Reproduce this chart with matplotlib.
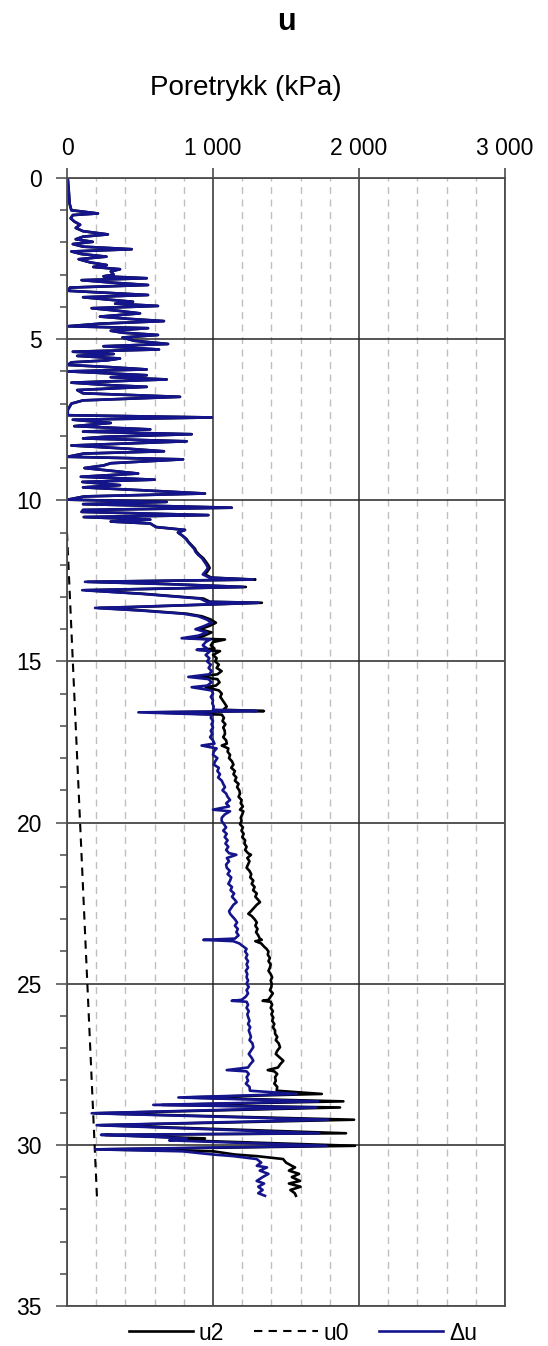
import numpy as np
import matplotlib.pyplot as plt
from matplotlib.ticker import MultipleLocator

plt.rcParams['font.family'] = ['Liberation Sans', 'DejaVu Sans']

# upper layer: u0 = 0 here, so u2 and du are the same trace
depth_top = [0.0, 0.4, 0.8, 1.0, 1.1, 1.15, 1.25, 1.35, 1.45, 1.55, 1.65, 1.75, 1.82, 1.9,
             1.98, 2.05, 2.13, 2.21, 2.28, 2.36, 2.44, 2.52, 2.62, 2.7, 2.76, 2.83, 2.9, 3.0,
             3.05, 3.11, 3.17, 3.25, 3.32, 3.4, 3.5, 3.63, 3.7, 3.78, 3.84, 3.9, 3.97, 4.04,
             4.12, 4.2, 4.3, 4.37, 4.44, 4.52, 4.6, 4.66, 4.74, 4.8, 4.87, 4.95, 5.05, 5.15,
             5.22, 5.32, 5.39, 5.46, 5.52, 5.6, 5.66, 5.72, 5.8, 5.87, 5.94, 6.0, 6.12, 6.18,
             6.25, 6.35, 6.43, 6.48, 6.58, 6.68, 6.79, 6.9, 7.0, 7.2, 7.36, 7.43, 7.5, 7.6,
             7.7, 7.8, 7.87, 7.95, 8.03, 8.08, 8.17, 8.3, 8.4, 8.48, 8.55, 8.65, 8.73, 8.85,
             8.92, 9.0, 9.17, 9.27, 9.36, 9.43, 9.53, 9.6, 9.69, 9.79, 9.88, 9.98, 10.05,
             10.12, 10.23, 10.3, 10.36, 10.46, 10.52, 10.6, 10.66, 10.72, 10.83, 10.92]
u_top = [5, 12, 18, 30, 212, 40, 25, 50, 90, 60, 110, 280, 110, 60,
         176, 40, 110, 443, 30, 100, 270, 80, 160, 272, 180, 363, 300, 320,
         250, 546, 100, 320, 555, 20, 10, 555, 110, 300, 452, 330, 623, 169,
         350, 500, 226, 420, 664, 226, 5, 555, 300, 380, 623, 380, 460, 692,
         250, 630, 40, 320, 70, 363, 272, 30, 5, 300, 546, 5, 546, 300,
         683, 30, 300, 546, 70, 110, 774, 110, 30, 5, 5, 991, 40, 300,
         50, 570, 110, 854, 260, 110, 820, 30, 418, 664, 115, 5, 795, 300,
         250, 120, 487, 95, 600, 105, 363, 110, 520, 945, 120, 5, 683,
         110, 1128, 110, 100, 968, 115, 570, 300, 570, 610, 808]

# lower layers
depth_lo = [11.0, 11.1, 11.2, 11.3, 11.4, 11.5, 11.6, 11.7, 11.8, 11.9, 12.0, 12.1, 12.2, 12.3,
            12.4, 12.46, 12.53, 12.6, 12.69, 12.79, 12.9, 13.05, 13.15, 13.18, 13.31, 13.34,
            13.42, 13.52, 13.6, 13.7, 13.8, 13.9, 14.0, 14.1, 14.2, 14.28, 14.32, 14.4, 14.5,
            14.6, 14.64, 14.68, 14.8, 14.9, 15.0, 15.1, 15.2, 15.3, 15.4, 15.48, 15.55, 15.65,
            15.75, 15.8, 15.9, 16.0, 16.1, 16.2, 16.3, 16.4, 16.5, 16.54, 16.58, 16.65, 16.75,
            16.85, 16.95, 17.05, 17.15, 17.25, 17.35, 17.45, 17.55, 17.61, 17.7, 17.8, 17.9,
            18.0, 18.1, 18.2, 18.3, 18.4, 18.5, 18.6, 18.7, 18.8, 18.9, 19.0, 19.1, 19.2, 19.3,
            19.4, 19.5, 19.6, 19.65, 19.75, 19.85, 19.95, 20.05, 20.15, 20.25, 20.35, 20.45,
            20.55, 20.65, 20.75, 20.85, 20.95, 21.0, 21.1, 21.2, 21.3, 21.4, 21.5, 21.6, 21.7,
            21.8, 21.9, 22.0, 22.1, 22.2, 22.3, 22.4, 22.47, 22.55, 22.65, 22.75, 22.83, 22.9,
            23.0, 23.1, 23.2, 23.3, 23.4, 23.5, 23.6, 23.64, 23.68, 23.75, 23.85, 23.92, 24.0,
            24.1, 24.2, 24.3, 24.4, 24.5, 24.6, 24.7, 24.8, 24.9, 25.0, 25.1, 25.2, 25.3, 25.4,
            25.5, 25.53, 25.56, 25.65, 25.75, 25.85, 25.95, 26.05, 26.15, 26.25, 26.35, 26.45,
            26.55, 26.65, 26.75, 26.85, 26.97, 27.08, 27.18, 27.3, 27.39, 27.5, 27.6, 27.68,
            27.72, 27.8, 27.9, 28.01, 28.1, 28.2, 28.32, 28.42, 28.53, 28.65, 28.76, 28.84,
            29.02, 29.22, 29.39, 29.64, 29.69, 29.75, 29.8, 29.86, 30.03, 30.14, 30.2, 30.3,
            30.35, 30.44, 30.55, 30.65, 30.7, 30.8, 30.9, 31.0, 31.12, 31.2, 31.3, 31.4, 31.5,
            31.58]
u2_lo = [760, 792, 818, 834, 855, 876, 887, 908, 934, 950, 966, 977, 963, 944,
         990, 1290, 140, 700, 1225, 125, 520, 935, 980, 1335, 465, 215,
         525, 822, 925, 985, 1020, 975, 910, 990, 940, 830, 1082, 1000, 985,
         1010, 900, 1048, 1000, 1025, 1015, 1040, 1025, 1059, 1030, 900, 1030, 1045,
         1020, 950, 1040, 1060, 1050, 1065, 1080, 1094, 1070, 1349, 560, 1060, 1075,
         1065, 1085, 1070, 1080, 1082, 1070, 1090, 1095, 1060, 1105, 1100, 1117,
         1110, 1130, 1140, 1125, 1150, 1140, 1160, 1150, 1175, 1165, 1180, 1185, 1175, 1196,
         1190, 1205, 1185, 1208, 1200, 1190, 1196, 1185, 1205, 1195, 1210, 1200,
         1220, 1215, 1230, 1220, 1240, 1260, 1235, 1250, 1240, 1230, 1250, 1262, 1255,
         1276, 1265, 1285, 1275, 1300, 1290, 1310, 1322, 1300, 1280, 1260, 1242, 1265,
         1285, 1300, 1290, 1305, 1295, 1310, 1320, 1334, 1290, 1330, 1350, 1367, 1380,
         1375, 1390, 1380, 1395, 1390, 1380, 1395, 1405, 1395, 1402, 1400, 1390, 1410, 1395,
         1380, 1340, 1395, 1405, 1395, 1410, 1400, 1413, 1405, 1420, 1410, 1425,
         1425, 1440, 1430, 1450, 1459, 1440, 1430, 1460, 1482, 1460, 1445, 1375,
         1420, 1440, 1425, 1430, 1420, 1440, 1436, 1745, 800, 1893, 650, 1870,
         190, 1966, 230, 1911, 260, 620, 945, 800, 1973, 210, 1002, 1150,
         1300, 1480, 1500, 1540, 1562, 1520, 1590, 1540, 1596, 1520, 1600, 1530, 1560,
         1568]
du_lo = [760, 790, 815, 830, 850, 870, 880, 900, 925, 940, 955, 965, 950, 930,
         975, 1276, 123, 683, 1208, 104, 500, 911, 957, 1311, 443, 192,
         500, 797, 900, 957, 990, 940, 880, 960, 900, 785, 980, 950, 930,
         960, 888, 980, 950, 975, 960, 985, 970, 990, 975, 831, 970, 990,
         960, 854, 990, 1000, 985, 1000, 995, 1005, 1000, 1299, 489, 990, 985,
         1000, 990, 1000, 985, 995, 980, 1000, 1010, 922, 1025, 1005, 1000,
         1030, 1015, 1005, 1040, 1030, 1048, 1035, 1060, 1070, 1082, 1065, 1090, 1100, 1117,
         1090, 1110, 1000, 1117, 1080, 1060, 1059, 1075, 1090, 1070, 1094, 1080,
         1100, 1085, 1105, 1090, 1110, 1160, 1095, 1110, 1090, 1094, 1115, 1100, 1125,
         1117, 1105, 1130, 1120, 1145, 1130, 1150, 1162, 1140, 1125, 1110, 1117, 1130,
         1150, 1165, 1150, 1170, 1160, 1175, 1150, 934, 1139, 1180, 1210, 1230, 1220,
         1235, 1225, 1240, 1230, 1240, 1225, 1235, 1230, 1240, 1230, 1245, 1230, 1240, 1225,
         1196, 1128, 1230, 1240, 1230, 1245, 1235, 1242, 1250, 1240, 1255, 1245,
         1253, 1260, 1250, 1270, 1276, 1260, 1245, 1265, 1276, 1255, 1240, 1094,
         1230, 1245, 1230, 1240, 1225, 1250, 1253, 1573, 763, 1720, 591, 1710,
         169, 1790, 203, 1728, 233, 590, 820, 700, 1778, 192, 792, 1000,
         1139, 1299, 1330, 1300, 1370, 1320, 1380, 1340, 1299, 1350, 1310, 1340, 1310,
         1356]

u0_depth = [11.0, 31.6]
u0_val = [0, 205]

xticks = [0, 1000, 2000, 3000]
xtick_labels = ['0', '1 000', '2 000', '3 000']
yticks = [0, 5, 10, 15, 20, 25, 30, 35]

depth = np.array(depth_top + depth_lo)
u2 = np.array(u_top + u2_lo)
du = np.array(u_top + du_lo)

W, H = 548, 1346
fig = plt.figure(figsize=(W / 100, H / 100), dpi=100)
ax = fig.add_axes([67 / W, 1 - 1306 / H, 438 / W, 1128 / H])

ax.plot(u2, depth, color='black', lw=1.9, label='u2')
ax.plot(u0_val, u0_depth, color='black', lw=1.5, ls=(0, (4, 3)), label='u0')
ax.plot(du, depth, color='#14148c', lw=1.9, label='Δu')

ax.set_xlim(0, 3000)
ax.set_ylim(35, 0)
ax.xaxis.tick_top()
ax.set_xticks(xticks)
ax.set_xticklabels(xtick_labels)
ax.set_yticks(yticks)
ax.set_yticklabels([str(t) for t in yticks])
ax.xaxis.set_minor_locator(MultipleLocator(200))
ax.yaxis.set_minor_locator(MultipleLocator(1))

ax.set_axisbelow(True)
ax.grid(which='minor', axis='x', color='#bfbfbf', lw=1.0, ls=(0, (5, 4)))
ax.grid(which='major', axis='x', color='#595959', lw=1.4)
ax.grid(which='major', axis='y', color='#262626', lw=1.1)

ax.tick_params(axis='x', which='major', length=7, width=1.3, color='#595959',
               labelsize=16.5, pad=6)
ax.tick_params(axis='x', which='minor', length=0)
ax.tick_params(axis='y', which='major', length=8, width=1.2, color='#595959',
               labelsize=16.5, pad=10)
ax.tick_params(axis='y', which='minor', length=5, width=1.2, color='#595959')
for s in ax.spines.values():
    s.set_color('#4d4d4d')
    s.set_linewidth(1.3)

fig.text(286 / W, 1 - 22 / H, 'u', ha='center', va='center', fontsize=22, fontweight='bold')
fig.text(246 / W, 1 - 88 / H, 'Poretrykk (kPa)', ha='center', va='center', fontsize=20)

fig.legend(loc='center', bbox_to_anchor=(303 / W, 1 - 1333 / H), ncol=3, frameon=False,
           fontsize=16.5, handlelength=2.8, handletextpad=0.25, columnspacing=1.3)

fig.savefig('out.png', dpi=100)
